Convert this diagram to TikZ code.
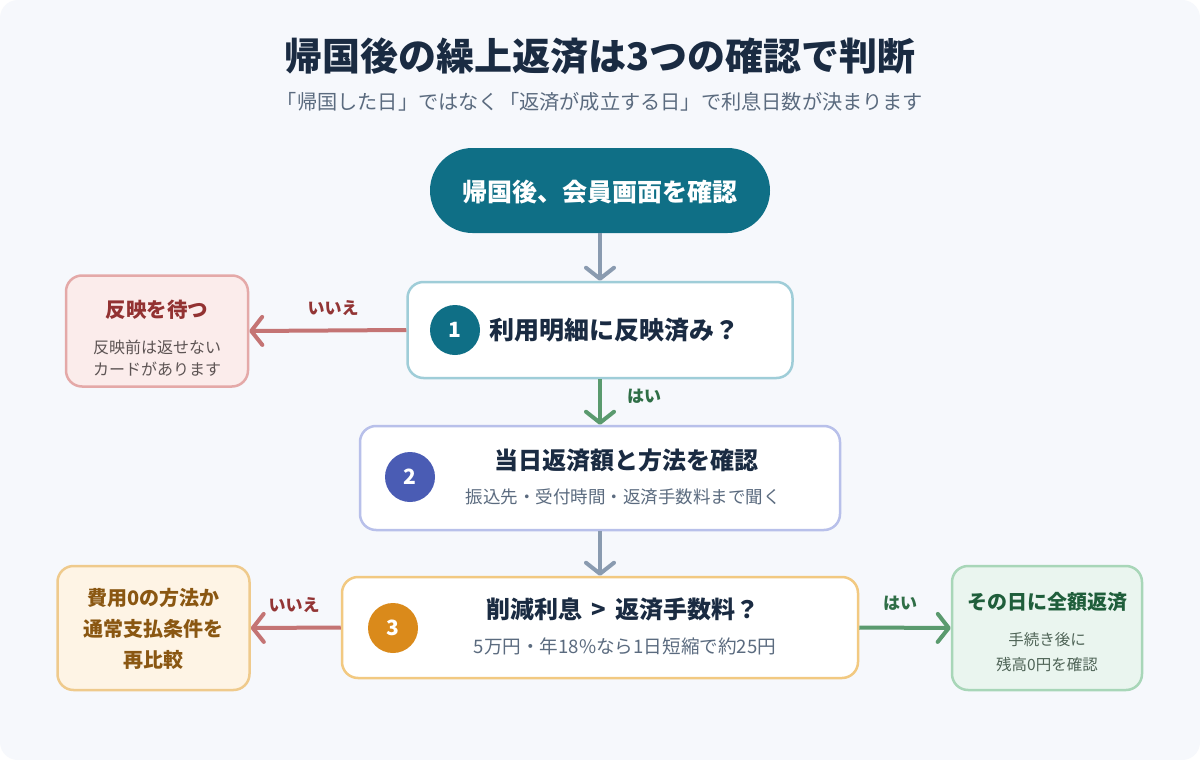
\documentclass[tikz,border=0pt]{standalone}
\usepackage{fontspec}
\newfontfamily\jp{Noto Sans CJK JP}
\usetikzlibrary{arrows.meta}
\definecolor{bg}{HTML}{F6F8FC}
\definecolor{navy}{HTML}{1A2B42}
\definecolor{subgray}{HTML}{5B6B7F}
\definecolor{teal}{HTML}{0F6F86}
\definecolor{tealb}{HTML}{9FCDD8}
\definecolor{blueb}{HTML}{B8C0EA}
\definecolor{bluec}{HTML}{4A5CB4}
\definecolor{orab}{HTML}{F2C981}
\definecolor{orac}{HTML}{DA8A1B}
\definecolor{redf}{HTML}{FBECEB}
\definecolor{redb}{HTML}{E4A9A8}
\definecolor{redt}{HTML}{933232}
\definecolor{reds}{HTML}{5D5454}
\definecolor{orf}{HTML}{FEF4E5}
\definecolor{orbb}{HTML}{EFCA8C}
\definecolor{ort}{HTML}{8A5712}
\definecolor{grf}{HTML}{EAF5EF}
\definecolor{grb}{HTML}{A8D6B8}
\definecolor{grt}{HTML}{1F5E3B}
\definecolor{grs}{HTML}{4F6457}
\definecolor{arrgray}{HTML}{8A9BB0}
\definecolor{arrred}{HTML}{C47474}
\definecolor{arrgreen}{HTML}{5A9A6E}
\definecolor{lblred}{HTML}{933535}
\definecolor{lblgreen}{HTML}{2F6E46}
\tikzset{
  box/.style={rectangle, rounded corners=16pt, line width=2.5pt, fill=white, inner sep=0pt},
  numc/.style={circle, minimum size=50pt, inner sep=0pt, text=white, font=\jp\bfseries\fontsize{21}{24}\selectfont},
  conn/.style={line width=4pt, -{Straight Barb[length=11pt,width=28pt,round]}},
  lbl/.style={font=\jp\bfseries\fontsize{17}{20}\selectfont, inner sep=0pt},
  txt/.style={inner sep=0pt, anchor=center},
}
\begin{document}
\begin{tikzpicture}[x=1pt,y=-1pt]
\useasboundingbox (0,0) rectangle (1200,760);
\fill[white] (0,0) rectangle (1200,760);
\fill[bg, rounded corners=18pt] (0,0) rectangle (1200,760);

% title
\node[txt, text=navy, font=\jp\bfseries\fontsize{38}{42}\selectfont] (title) at (600,56) {帰国後の繰上返済は3つの確認で判断};
\node[txt, text=subgray, font=\jp\fontsize{20.2}{24}\selectfont] (subtitle) at (600,102) {「帰国した日」ではなく「返済が成立する日」で利息日数が決まります};

% start node
\node[rectangle, rounded corners=42.5pt, fill=teal, minimum width=340pt, minimum height=85pt, inner sep=0pt] (start) at (600,190.5) {};
\node[txt, text=white, font=\jp\bfseries\fontsize{25}{28}\selectfont] at (600,192) {帰国後、会員画面を確認};

% node 1
\node[box, draw=tealb, minimum width=385pt, minimum height=96pt] (n1) at (600,330) {};
\node[numc, fill=teal] (c1) at (455,330) {1};
\node[txt, anchor=west, text=navy, font=\jp\bfseries\fontsize{25}{28}\selectfont] at (489,330) {利用明細に反映済み？};

% wait node
\node[box, draw=redb, fill=redf, minimum width=182pt, minimum height=111pt] (wait) at (157,331) {};
\node[txt, text=redt, font=\jp\bfseries\fontsize{20.5}{24}\selectfont] at (157,310) {反映を待つ};
\node[txt, text=reds, font=\jp\fontsize{16}{22}\selectfont, align=center] at (157,358) {反映前は返せない\\カードがあります};

% node 2
\node[box, draw=blueb, minimum width=480pt, minimum height=104pt] (n2) at (600,478) {};
\node[numc, fill=bluec] (c2) at (410,477) {2};
\node[txt, text=navy, font=\jp\bfseries\fontsize{24}{28}\selectfont] at (626,460) {当日返済額と方法を確認};
\node[txt, text=subgray, font=\jp\fontsize{17.5}{20}\selectfont] at (623,497) {振込先・受付時間・返済手数料まで聞く};

% node 3
\node[box, draw=orab, minimum width=516pt, minimum height=101pt] (n3) at (600,627.5) {};
\node[numc, fill=orac] (c3) at (393,628) {3};
\node[txt, text=navy, font=\jp\bfseries\fontsize{24}{28}\selectfont] at (623,609) {削減利息\hspace{9pt}>\hspace{9pt}返済手数料？};
\node[txt, text=subgray, font=\jp\fontsize{18.6}{20}\selectfont] at (625,646) {5万円・年18\%なら1日短縮で約25円};

% recompare node
\node[box, draw=orbb, fill=orf, minimum width=192pt, minimum height=124pt] (recmp) at (153.5,628) {};
\node[txt, text=ort, font=\jp\bfseries\fontsize{20}{31}\selectfont, align=center] at (153.5,629) {費用0の方法か\\通常支払条件を\\再比較};

% pay node
\node[box, draw=grb, fill=grf, minimum width=190pt, minimum height=124pt] (pay) at (1047,628) {};
\node[txt, text=grt, font=\jp\bfseries\fontsize{20}{24}\selectfont] at (1047,602) {その日に全額返済};
\node[txt, text=grs, font=\jp\fontsize{15.5}{25}\selectfont, align=center] at (1047,652) {手続き後に\\残高0円を確認};

% connectors
\draw[conn, arrgray] (start.south) -- (n1.north);
\draw[conn, arrred] (n1.west) -- (wait.east);
\node[lbl, text=lblred] at (333,308) {いいえ};
\draw[conn, arrgreen] (n1.south) -- (n2.north);
\node[lbl, text=lblgreen] at (644,396) {はい};
\draw[conn, arrgray] (n2.south) -- (n3.north);
\draw[conn, arrred] (n3.west) -- (recmp.east);
\node[lbl, text=lblred] at (294,605) {いいえ};
\draw[conn, arrgreen] (n3.east) -- (pay.west);
\node[lbl, text=lblgreen] at (900,603) {はい};
\end{tikzpicture}
\end{document}
